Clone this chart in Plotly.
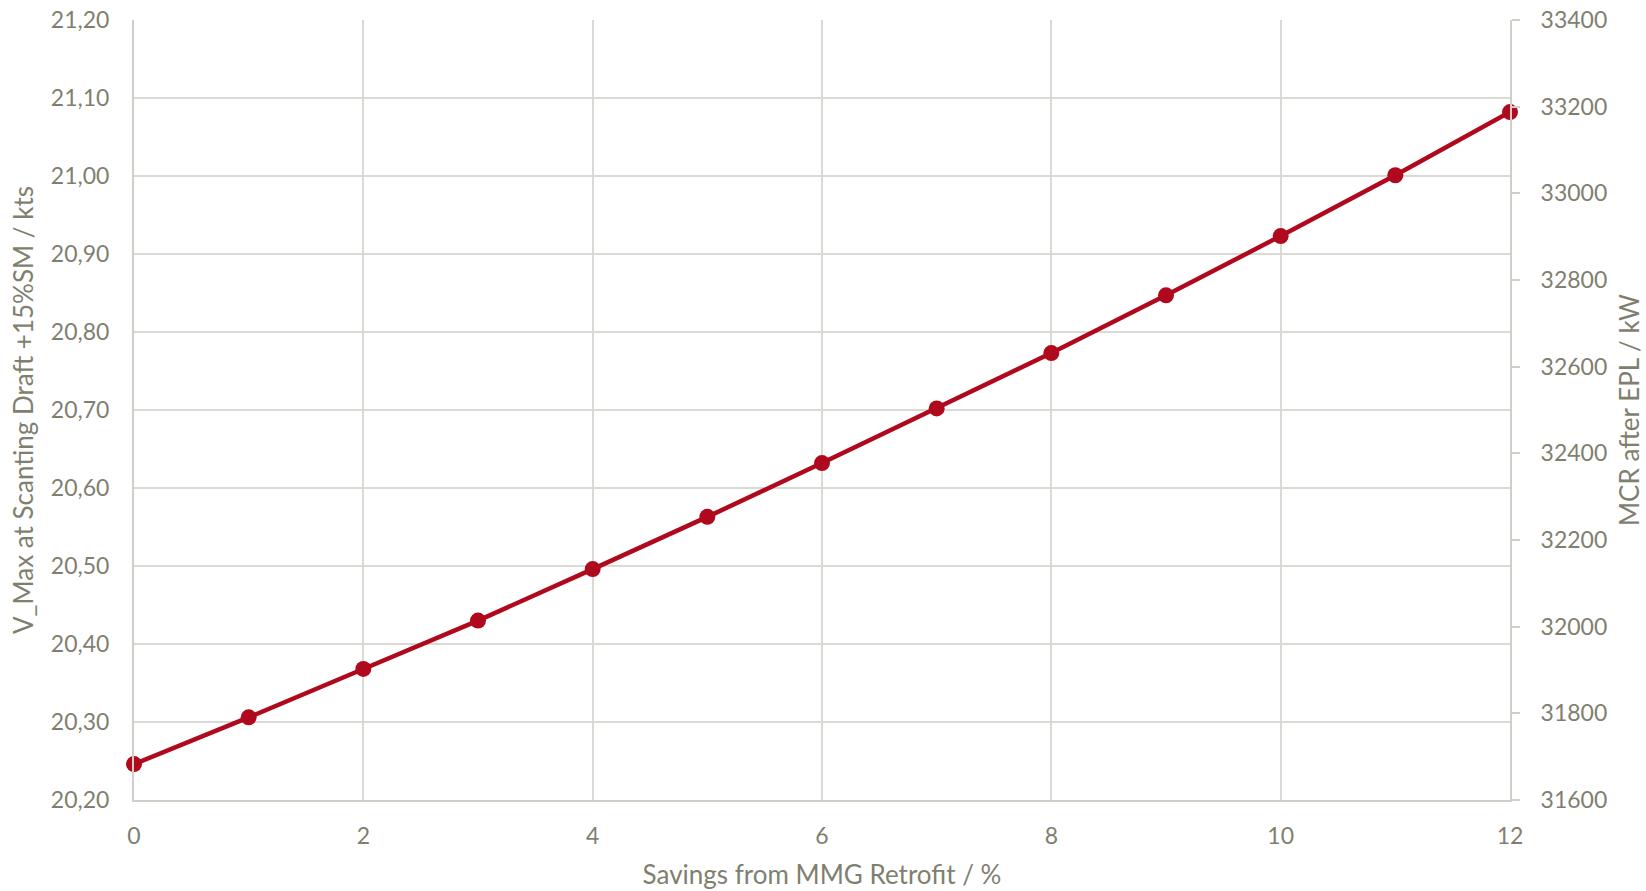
import plotly.graph_objects as go

savings_pct = [0, 1, 2, 3, 4, 5, 6, 7, 8, 9, 10, 11, 12]
v_max_kts = [20.246, 20.306, 20.368, 20.430, 20.496, 20.563, 20.632,
             20.702, 20.773, 20.847, 20.923, 21.001, 21.082]

x_title = "Savings from MMG Retrofit / %"
y_title = "V_Max at Scanting Draft +15%SM / kts"
y2_title = "MCR after EPL / kW"

TEXT = "#7f7f70"
GRID = "#dadad4"
AXIS = "#cfcfc8"
RED = "#b0081c"
FONT = "Lato"

fig = go.Figure()
fig.add_trace(go.Scatter(
    x=savings_pct, y=v_max_kts, mode="lines+markers",
    line=dict(color=RED, width=4.5),
    marker=dict(color=RED, size=16),
    showlegend=False, cliponaxis=False,
))
# empty trace so that the secondary (right) axis is drawn
fig.add_trace(go.Scatter(x=[], y=[], yaxis="y2", showlegend=False, hoverinfo="skip"))

fig.update_layout(
    width=1646, height=891,
    margin=dict(l=134, r=136, t=20, b=91),
    paper_bgcolor="white", plot_bgcolor="white",
    font=dict(family=FONT, size=23, color=TEXT),
    xaxis=dict(
        range=[0, 12], dtick=2, tick0=0, automargin=False,
        showgrid=True, gridcolor=GRID, gridwidth=2,
        showline=True, linecolor=AXIS, linewidth=2,
        zeroline=False, ticks="", ticklabelstandoff=14,
        title=dict(text=x_title, standoff=18, font=dict(size=26, color=TEXT)),
    ),
    yaxis=dict(
        range=[20.2, 21.2], dtick=0.1, tick0=20.2, tickformat=".2f", automargin=False,
        showgrid=True, gridcolor=GRID, gridwidth=2,
        showline=True, linecolor=AXIS, linewidth=2,
        zeroline=False, ticks="", ticklabelstandoff=18,
        title=dict(text=y_title, standoff=10, font=dict(size=26, color=TEXT)),
    ),
    yaxis2=dict(
        overlaying="y", side="right", anchor="x", automargin=False,
        range=[31600, 33400], dtick=200, tick0=31600, tickformat="d",
        showgrid=False, showline=True, linecolor=AXIS, linewidth=2,
        zeroline=False, ticks="outside", ticklen=8, tickwidth=2, tickcolor=AXIS,
        ticklabelstandoff=16,
        title=dict(text=y2_title, standoff=14, font=dict(size=26, color=TEXT)),
    ),
    separators=",.",
)

fig.write_html("out.html", config={"displayModeBar": False},
               post_script="document.body.style.margin='0';")
